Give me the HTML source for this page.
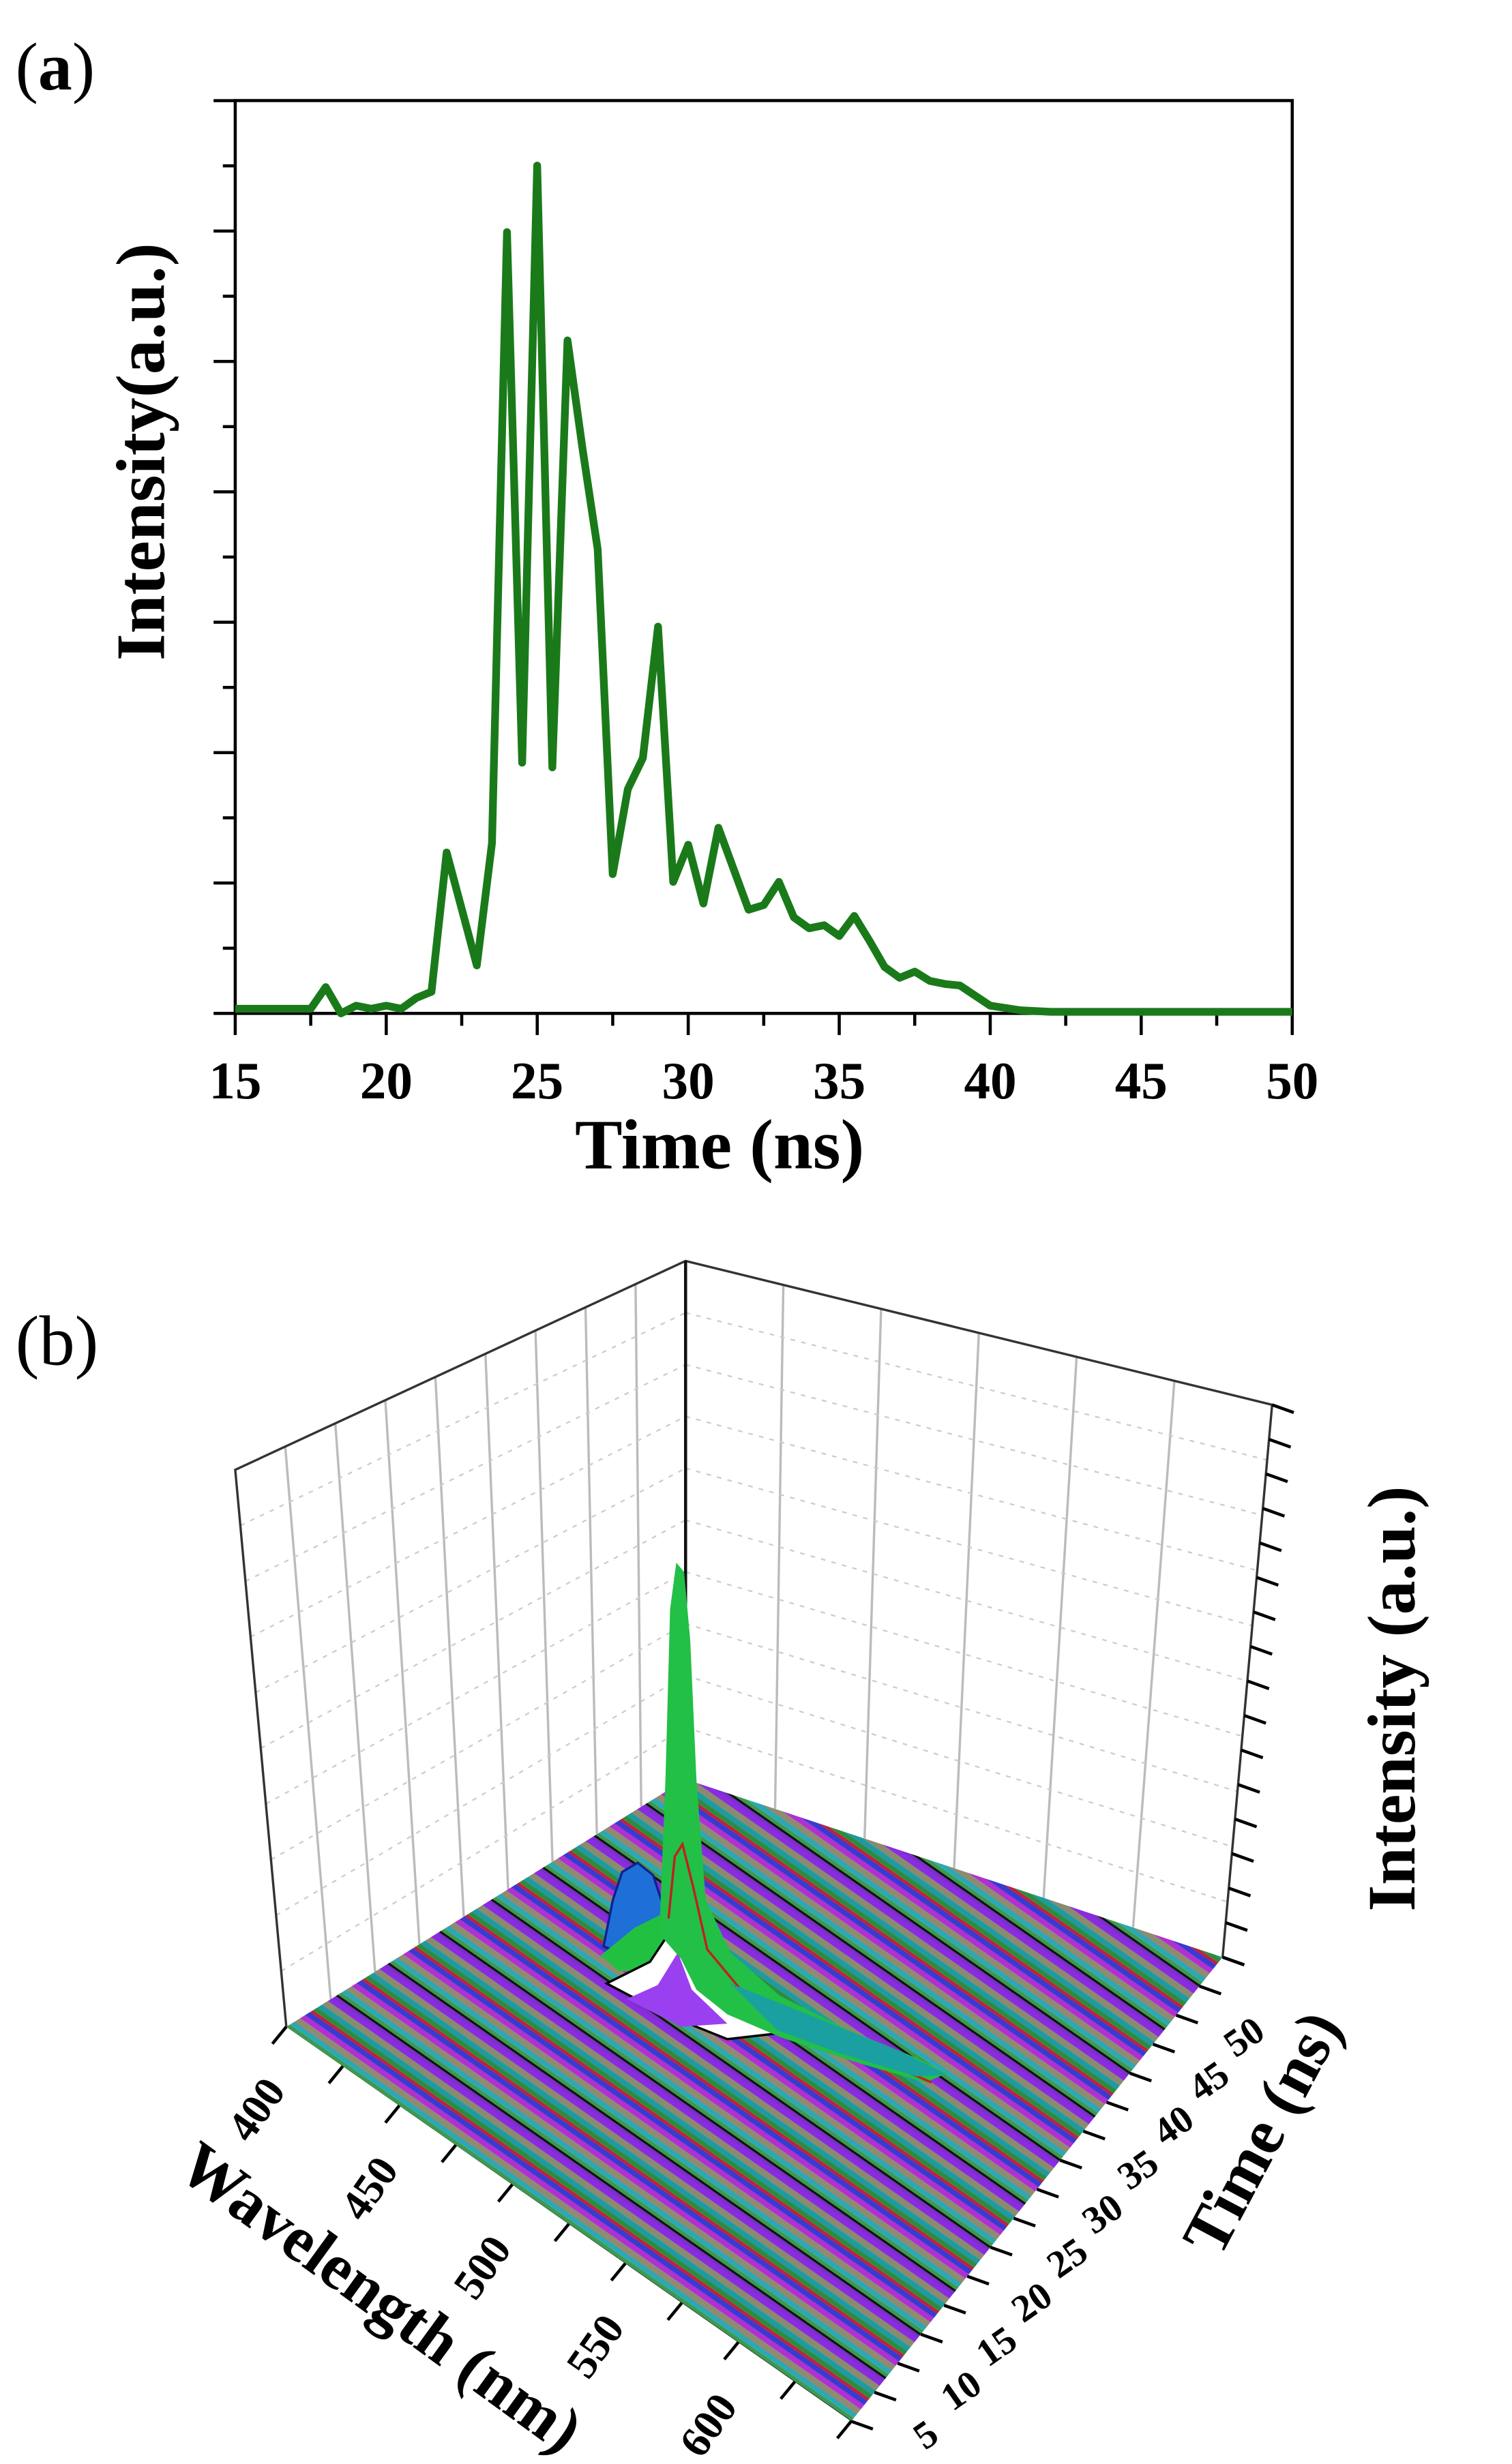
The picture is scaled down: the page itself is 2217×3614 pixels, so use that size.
<!DOCTYPE html>
<html><head><meta charset="utf-8"><style>
html,body{margin:0;padding:0;background:#fff;}
svg{display:block;}
text{font-family:"Liberation Serif",serif;}
</style></head><body>
<svg id="s" width="2217" height="3614" viewBox="0 0 977 1592.6" preserveAspectRatio="none" xmlns="http://www.w3.org/2000/svg">
<defs>
<pattern id="stripes" patternUnits="userSpaceOnUse" width="2000" height="36" patternTransform="rotate(34.9)">
<rect x="0" y="0" width="2000" height="3.5" fill="#8a2be2"/>
<rect x="0" y="3.5" width="2000" height="4" fill="#8c8a6e"/>
<rect x="0" y="7.5" width="2000" height="3.5" fill="#1f9aa0"/>
<rect x="0" y="11" width="2000" height="3" fill="#2e8b3e"/>
<rect x="0" y="14" width="2000" height="2" fill="#c0203a"/>
<rect x="0" y="16" width="2000" height="3.5" fill="#3a3ad0"/>
<rect x="0" y="19.5" width="2000" height="3.5" fill="#b030d0"/>
<rect x="0" y="23" width="2000" height="4" fill="#8e8c70"/>
<rect x="0" y="27" width="2000" height="3" fill="#2aa8b8"/>
<rect x="0" y="30" width="2000" height="2.5" fill="#3c9a50"/>
<rect x="0" y="32.5" width="2000" height="1.5" fill="#111"/>
<rect x="0" y="34" width="2000" height="2" fill="#7a30c8"/>
</pattern>
</defs>

<!-- Panel a -->
<text x="10" y="58" font-size="44">(<tspan font-weight="bold">a</tspan>)</text>
<rect x="152" y="65" width="683" height="590" fill="none" stroke="#000" stroke-width="2"/>
<g id="aticks" stroke="#000" stroke-width="2"></g>
<g font-size="34" font-weight="bold" text-anchor="middle">
<text x="152" y="710">15</text><text x="249.6" y="710">20</text><text x="347.1" y="710">25</text>
<text x="444.7" y="710">30</text><text x="542.3" y="710">35</text><text x="639.9" y="710">40</text>
<text x="737.4" y="710">45</text><text x="835" y="710">50</text>
</g>
<text x="465" y="755" font-size="46" font-weight="bold" text-anchor="middle">Time (ns)</text>
<text transform="translate(106,292) rotate(-90)" font-size="45" font-weight="bold" text-anchor="middle">Intensity(a.u.)</text>
<polyline id="curve" fill="none" stroke="#1a7a1a" stroke-width="5" stroke-linejoin="round"></polyline>

<!-- Panel b -->
<text x="10" y="882" font-size="46">(b)</text>
<g id="walls" fill="none"></g>
<polygon points="185,1310 443,1150 790,1265 550,1565" fill="url(#stripes)"/>
<polygon points="390,1258 396,1228 402,1210 412,1204 422,1212 428,1230 432,1250 420,1262 400,1262" fill="#1f6fd8" stroke="#102090" stroke-width="1.5"/>
<polygon points="388,1264 410,1246 430,1236 434,1262 420,1274 400,1274" fill="#22c040"/>
<polygon points="392,1282 420,1268 436,1244 448,1270 472,1300 505,1314 470,1318 430,1302" fill="#fff" stroke="#000" stroke-width="1.5"/>
<polygon points="405,1292 425,1283 438,1262 447,1286 470,1308 440,1310" fill="#9a40f0"/>
<polygon points="426,1250 430,1150 433,1040 437,1010 442,1016 446,1060 450,1150 456,1228 472,1262 504,1290 548,1312 592,1330 612,1340 598,1346 550,1332 505,1317 470,1302 450,1286 440,1266" fill="#22c046"/>
<polyline points="432,1240 436,1200 441,1192 448,1220 457,1260 482,1290 532,1316 602,1346" fill="none" stroke="#c02020" stroke-width="1.5"/>
<polygon points="472,1282 522,1302 582,1326 612,1341 592,1342 542,1327 502,1312" fill="#1aa0a0"/>
<g id="btick" stroke="#000" stroke-width="2"></g>
<g id="blabels" font-size="28" font-weight="bold"></g>
<text transform="translate(914,1098) rotate(-90)" font-size="44" font-weight="bold" text-anchor="middle">Intensity (a.u.)</text>
<text transform="translate(828,1385) rotate(-62)" font-size="42" font-weight="bold" text-anchor="middle">Time (ns)</text>
<text transform="translate(238,1496) rotate(36)" font-size="42" font-weight="bold" text-anchor="middle">Wavelength (nm)</text>
</svg>
<script>
var NS="http://www.w3.org/2000/svg";
function el(p,t,a){var e=document.createElementNS(NS,t);for(var k in a)e.setAttribute(k,a[k]);p.appendChild(e);return e;}
var g=document.getElementById('aticks');
for(var i=0;i<=14;i++){var y=655-i*42.14;el(g,'line',{x1:i%2?144:138,y1:y,x2:152,y2:y});}
for(var t=15;t<=50;t+=2.5){var x=152+(t-15)*19.514;el(g,'line',{x1:x,y1:655,x2:x,y2:(t%5==0)?669:663});}
var d=[[15,652],[17.5,652],[18,638],[18.5,655],[19,650],[19.5,652],[20,650],[20.5,652],[21,645],[21.5,641],[22,551],[23,624],[23.5,545],[24,150],[24.5,493],[25,107],[25.5,496],[26,220],[26.5,290],[27,355],[27.5,565],[28,510],[28.5,490],[29,405],[29.5,570],[30,546],[30.5,584],[31,535],[32,588],[32.5,585],[33,570],[33.5,593],[34,600],[34.5,598],[35,605],[35.5,592],[36,608],[36.5,625],[37,632],[37.5,628],[38,634],[38.5,636],[39,637],[40,650],[41,653],[42,654],[50,654]];
document.getElementById('curve').setAttribute('points',d.map(function(p){return (152+(p[0]-15)*19.514).toFixed(1)+','+p[1];}).join(' '));
var w=document.getElementById('walls');
function L(a,b,t){return [a[0]+(b[0]-a[0])*t,a[1]+(b[1]-a[1])*t];}
var TL=[152,950],BK=[443,815],TR=[822,908],FL=[185,1310],BB=[443,1150],FR=[790,1265];
for(var i=1;i<9;i++){var t=i/9,p=L(TL,BK,t),q=L(FL,BB,t);el(w,'line',{x1:p[0],y1:p[1],x2:q[0],y2:q[1],stroke:'#bbb','stroke-width':1.5});}
for(var i=1;i<6;i++){var t=i/6,p=L(BK,TR,t),q=L(BB,FR,t);el(w,'line',{x1:p[0],y1:p[1],x2:q[0],y2:q[1],stroke:'#bbb','stroke-width':1.5});}
for(var i=1;i<10;i++){var t=i/10,p=L(TL,FL,t),q=L(BK,BB,t),r=L(TR,FR,t);
el(w,'line',{x1:p[0],y1:p[1],x2:q[0],y2:q[1],stroke:'#ccc','stroke-width':1,'stroke-dasharray':'3,4'});
el(w,'line',{x1:q[0],y1:q[1],x2:r[0],y2:r[1],stroke:'#ccc','stroke-width':1,'stroke-dasharray':'3,4'});}
el(w,'polyline',{points:'185,1310 152,950 443,815 822,908 790,1265',stroke:'#333','stroke-width':1.5});
el(w,'line',{x1:443,y1:815,x2:443,y2:1150,stroke:'#111','stroke-width':2});
var bt=document.getElementById('btick'),bl=document.getElementById('blabels');
for(var i=0;i<=16;i++){var p=L(FR,TR,i/16);el(bt,'line',{x1:p[0],y1:p[1],x2:p[0]+14,y2:p[1]+5});}
var FF=[550,1565];
for(var i=0;i<=10;i++){var p=L(FL,FF,i/10);el(bt,'line',{x1:p[0],y1:p[1],x2:p[0]-9,y2:p[1]+11});}
for(var i=0;i<=16;i++){var p=L(FF,FR,i/16);el(bt,'line',{x1:p[0],y1:p[1],x2:p[0]+14,y2:p[1]+5});}
var wl=['400','450','500','550','600'];
for(var i=0;i<5;i++){var p=L(FL,FF,(i*2+0.5)/10);var e=el(bl,'text',{transform:'translate('+(p[0]-30)+','+(p[1]+46)+') rotate(-55)','text-anchor':'middle'});e.textContent=wl[i];}
var tl=['5','10','15','20','25','30','35','40','45','50'];
for(var i=0;i<10;i++){var p=L(FF,FR,(i+0.3)/10.5);var e=el(bl,'text',{transform:'translate('+(p[0]+46)+','+(p[1]+24)+') rotate(-35)','text-anchor':'middle','font-size':'25'});e.textContent=tl[i];}
</script>
</body></html>
